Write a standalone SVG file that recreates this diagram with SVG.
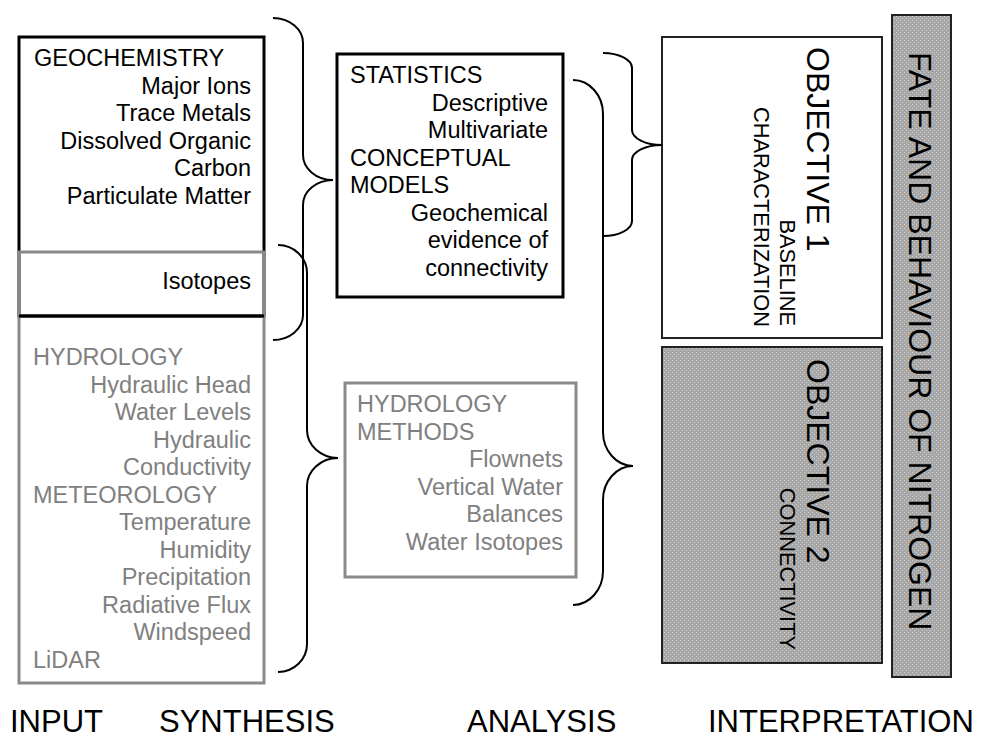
<svg xmlns="http://www.w3.org/2000/svg" width="989" height="739" viewBox="0 0 989 739">
<defs>
<pattern id="dots" patternUnits="userSpaceOnUse" width="4" height="4">
<rect width="4" height="4" fill="#a6a6a6"/>
<rect x="0" y="0" width="1" height="1" fill="#d2d2d2"/>
<rect x="2" y="2" width="1" height="1" fill="#d2d2d2"/>
</pattern>
<style>
text{font-family:"Liberation Sans",Arial,sans-serif;}
.t{font-size:23.5px;fill:#000;}
.g{font-size:23.5px;fill:#808080;}
.r{text-anchor:end;}
.big{font-size:32px;fill:#000;}
.lab{font-size:31px;fill:#000;}
.sm{font-size:21.8px;fill:#000;}
.blk{fill:none;stroke:#000;stroke-width:3;}
.gry{fill:none;stroke:#8a8a8a;stroke-width:3;}
.obj{stroke:#222;stroke-width:2;}
.brace{fill:none;stroke:#000;stroke-width:2;}
</style>
</defs>
<rect width="989" height="739" fill="#fff"/>

<g id="geochemistry">
<rect class="blk" x="19" y="37" width="245" height="279"/>
<text class="t" x="34" y="66">GEOCHEMISTRY</text>
<text class="t r" x="251" y="93.5">Major Ions</text>
<text class="t r" x="251" y="121">Trace Metals</text>
<text class="t r" x="251" y="148.5">Dissolved Organic</text>
<text class="t r" x="251" y="176">Carbon</text>
<text class="t r" x="251" y="203.5">Particulate Matter</text>
<text class="t r" x="251" y="289">Isotopes</text>
</g>

<g id="hydrology">
<rect class="gry" x="19" y="252" width="245" height="431"/>
<line x1="19" y1="316" x2="264" y2="316" stroke="#000" stroke-width="3"/>
<text class="g" x="33" y="365">HYDROLOGY</text>
<text class="g r" x="251" y="392.5">Hydraulic Head</text>
<text class="g r" x="251" y="420">Water Levels</text>
<text class="g r" x="251" y="447.5">Hydraulic</text>
<text class="g r" x="251" y="475">Conductivity</text>
<text class="g" x="33" y="502.5">METEOROLOGY</text>
<text class="g r" x="251" y="530">Temperature</text>
<text class="g r" x="251" y="557.5">Humidity</text>
<text class="g r" x="251" y="585">Precipitation</text>
<text class="g r" x="251" y="612.5">Radiative Flux</text>
<text class="g r" x="251" y="640">Windspeed</text>
<text class="g" x="33" y="667.5">LiDAR</text>
</g>

<g id="statistics">
<rect class="blk" x="337" y="54" width="226" height="243" fill="#fff"/>
<text class="t" x="350" y="83">STATISTICS</text>
<text class="t r" x="548" y="110.5">Descriptive</text>
<text class="t r" x="548" y="138">Multivariate</text>
<text class="t" x="350" y="165.5">CONCEPTUAL</text>
<text class="t" x="350" y="193">MODELS</text>
<text class="t r" x="548" y="220.5">Geochemical</text>
<text class="t r" x="548" y="248">evidence of</text>
<text class="t r" x="548" y="275.5">connectivity</text>
</g>

<g id="hydrology-methods">
<rect class="gry" x="345" y="383" width="231" height="194"/>
<text class="g" x="357" y="412">HYDROLOGY</text>
<text class="g" x="357" y="439.5">METHODS</text>
<text class="g r" x="563" y="467">Flownets</text>
<text class="g r" x="563" y="494.5">Vertical Water</text>
<text class="g r" x="563" y="522">Balances</text>
<text class="g r" x="563" y="549.5">Water Isotopes</text>
</g>

<g id="objective1">
<rect class="obj" x="662" y="37" width="220" height="301" fill="#fff"/>
<text class="big" transform="translate(807,47) rotate(90)">OBJECTIVE 1</text>
<text class="sm r" transform="translate(780,326) rotate(90)">BASELINE</text>
<text class="sm r" transform="translate(754,327) rotate(90)">CHARACTERIZATION</text>
</g>

<g id="objective2">
<rect class="obj" x="662" y="347" width="220" height="316" fill="url(#dots)"/>
<text class="big" transform="translate(807,359) rotate(90)">OBJECTIVE 2</text>
<text class="sm r" transform="translate(780,650) rotate(90)">CONNECTIVITY</text>
</g>

<g id="fate">
<rect class="obj" x="892" y="15" width="59" height="662" fill="url(#dots)"/>
<text class="big" transform="translate(909,52) rotate(90)">FATE AND BEHAVIOUR OF NITROGEN</text>
</g>

<g id="connectors">
<path class="brace" d="M273,18 C289.5,18 303,29.25 303,43 L303,155 C303,168.75 316.5,180 333,180 C316.5,180 303,191.25 303,205 L303,315 C303,328.75 289.5,340 273,340"/>
<path class="brace" d="M278,245 C294,245 307,257.6 307,273 L307,430 C307,445.4 321,458 338,458 C321,458 307,470.6 307,486 L307,644 C307,659.4 294,672 278,672"/>
<path class="brace" d="M603,53 C619,53 632,59.75 632,68 L632,130 C632,138.25 645.5,145 662,145 C645.5,145 632,151.75 632,160 L632,221 C632,229.25 619,236 603,236"/>
<path class="brace" d="M573,80 C589.5,80 603,95.3 603,114 L603,432 C603,450.7 616.5,466 633,466 C616.5,466 603,481.3 603,500 L603,571 C603,589.7 589.5,605 573,605"/>
</g>

<g id="labels">
<text class="lab" x="10" y="732">INPUT</text>
<text class="lab" x="159" y="732">SYNTHESIS</text>
<text class="lab" x="467" y="732">ANALYSIS</text>
<text class="lab" x="708" y="732">INTERPRETATION</text>
</g>
</svg>
